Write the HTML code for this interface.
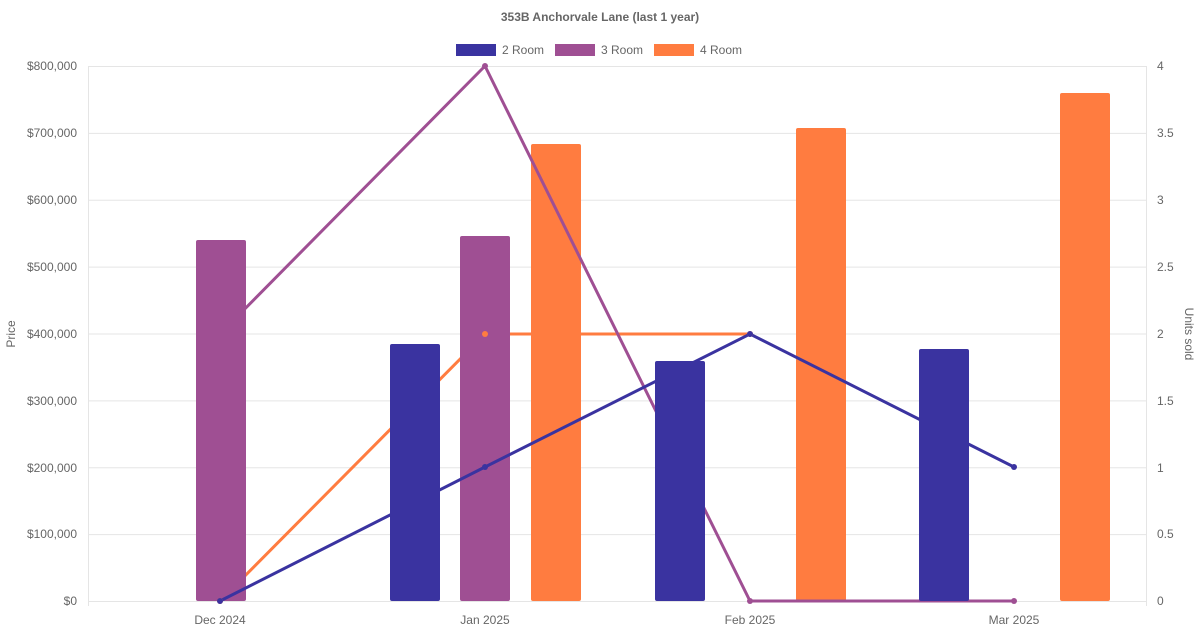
<!DOCTYPE html>
<html><head><meta charset="utf-8"><style>body{margin:0;background:#fff}svg{display:block}text{font-family:"Liberation Sans",sans-serif}</style></head><body>
<svg width="1200" height="630" xmlns="http://www.w3.org/2000/svg">
<text x="600" y="21" text-anchor="middle" font-size="12" font-weight="bold" fill="#666">353B Anchorvale Lane (last 1 year)</text>
<rect x="456" y="44" width="40" height="12" fill="#3a33a0"/><text x="502" y="54" font-size="12" fill="#666">2 Room</text>
<rect x="555" y="44" width="40" height="12" fill="#9f4f93"/><text x="601" y="54" font-size="12" fill="#666">3 Room</text>
<rect x="654" y="44" width="40" height="12" fill="#ff7c40"/><text x="700" y="54" font-size="12" fill="#666">4 Room</text>
<g stroke="#e5e5e5" stroke-width="1">
<line x1="88" y1="66.5" x2="1146" y2="66.5"/><line x1="88" y1="133.4" x2="1146" y2="133.4"/><line x1="88" y1="200.3" x2="1146" y2="200.3"/><line x1="88" y1="267.1" x2="1146" y2="267.1"/><line x1="88" y1="334" x2="1146" y2="334"/><line x1="88" y1="400.9" x2="1146" y2="400.9"/><line x1="88" y1="467.8" x2="1146" y2="467.8"/><line x1="88" y1="534.6" x2="1146" y2="534.6"/><line x1="88" y1="601.5" x2="1146" y2="601.5"/>
<line x1="88.5" y1="66" x2="88.5" y2="606"/><line x1="1146.5" y1="66" x2="1146.5" y2="606"/>
</g>
<g font-size="12" fill="#666" text-anchor="end">
<text x="77" y="70">$800,000</text><text x="77" y="137">$700,000</text><text x="77" y="204">$600,000</text><text x="77" y="271">$500,000</text><text x="77" y="338">$400,000</text><text x="77" y="405">$300,000</text><text x="77" y="472">$200,000</text><text x="77" y="538">$100,000</text><text x="77" y="605">$0</text>
</g>
<g font-size="12" fill="#666">
<text x="1157" y="70">4</text><text x="1157" y="204">3</text><text x="1157" y="137">3.5</text><text x="1157" y="271">2.5</text><text x="1157" y="338">2</text><text x="1157" y="405">1.5</text><text x="1157" y="472">1</text><text x="1157" y="538">0.5</text><text x="1157" y="605">0</text>
</g>
<g font-size="12" fill="#666" text-anchor="middle">
<text x="220" y="624">Dec 2024</text><text x="485" y="624">Jan 2025</text><text x="750" y="624">Feb 2025</text><text x="1014" y="624">Mar 2025</text>
</g>
<text transform="translate(15,334) rotate(-90)" font-size="12" fill="#666" text-anchor="middle">Price</text>
<text transform="translate(1185,334) rotate(90)" font-size="12" fill="#666" text-anchor="middle">Units sold</text>
<polyline points="220,601 485,334 750,334" stroke="#ff7c40" fill="none" stroke-width="3"/>
<g fill="#ff7c40"><rect x="531" y="144" width="50" height="457" rx="2"/><rect x="796" y="128" width="50" height="473" rx="2"/><rect x="1060" y="93" width="50" height="508" rx="2"/></g>
<polyline points="220,334 485,66 750,601 1014,601" stroke="#9f4f93" fill="none" stroke-width="3"/>
<g fill="#9f4f93"><rect x="196" y="240" width="50" height="361" rx="2"/><rect x="460" y="236" width="50" height="365" rx="2"/></g>
<polyline points="220,601 485,467 750,334 1014,467" stroke="#3a33a0" fill="none" stroke-width="3"/>
<g fill="#3a33a0"><rect x="390" y="344" width="50" height="257" rx="2"/><rect x="655" y="361" width="50" height="240" rx="2"/><rect x="919" y="349" width="50" height="252" rx="2"/></g>
<g fill="#ff7c40"><circle cx="220" cy="601" r="3"/><circle cx="485" cy="334" r="3"/><circle cx="750" cy="334" r="3"/></g>
<g fill="#9f4f93"><circle cx="485" cy="66" r="3"/><circle cx="750" cy="601" r="3"/><circle cx="1014" cy="601" r="3"/></g>
<g fill="#3a33a0"><circle cx="220" cy="601" r="3"/><circle cx="485" cy="467" r="3"/><circle cx="750" cy="334" r="3"/><circle cx="1014" cy="467" r="3"/></g>
</svg>
</body></html>
